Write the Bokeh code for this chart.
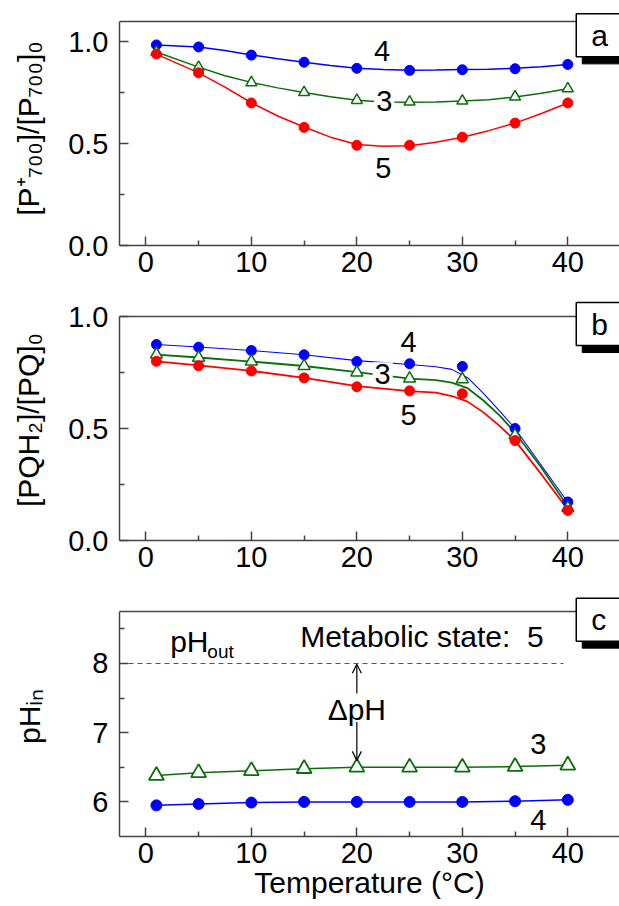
from bokeh.plotting import figure
from bokeh.layouts import column
from bokeh.models import Range1d, FixedTicker, Label, Arrow, OpenHead, PrintfTickFormatter
from bokeh.embed import file_html
from bokeh.resources import INLINE

FONT = "Liberation Sans"
BLUE = "#0000ff"
RED = "#ff0000"
GREEN = "#0b6e0b"
AXC = "#444444"

# ---------------- data ----------------
temperature = [1, 5, 10, 15, 20, 25, 30, 35, 40]

# panel a: [P700+]/[P700]0
p700_state4 = [0.985, 0.975, 0.935, 0.900, 0.870, 0.860, 0.863, 0.868, 0.889]
p700_state3 = [0.950, 0.875, 0.800, 0.752, 0.713, 0.705, 0.710, 0.730, 0.770]
p700_state5 = [0.940, 0.848, 0.700, 0.580, 0.492, 0.492, 0.532, 0.601, 0.700]
# fitted curves of panel a
a_fit_t = [1, 5, 7.5, 10, 12.5, 15, 17.5, 20, 22.5, 25, 27.5, 30, 32.5, 35, 37.5, 40]
a_fit_state4 = [0.985, 0.975, 0.958, 0.936, 0.917, 0.900, 0.884, 0.871, 0.864, 0.861, 0.862, 0.864, 0.866, 0.870, 0.878, 0.889]
a_fit_state3 = [0.950, 0.876, 0.834, 0.801, 0.774, 0.751, 0.730, 0.713, 0.705, 0.703, 0.705, 0.709, 0.716, 0.729, 0.748, 0.770]
a_fit_state5 = [0.940, 0.848, 0.778, 0.701, 0.636, 0.582, 0.532, 0.496, 0.487, 0.490, 0.507, 0.532, 0.564, 0.601, 0.648, 0.700]

# panel b: [PQH2]/[PQ]0
pq_state4 = [0.875, 0.863, 0.848, 0.829, 0.799, 0.789, 0.777, 0.500, 0.172]
pq_state3 = [0.830, 0.816, 0.799, 0.779, 0.750, 0.723, 0.720, 0.470, 0.146]
pq_state5 = [0.800, 0.780, 0.757, 0.726, 0.686, 0.668, 0.655, 0.446, 0.134]
b_fit_t = [1, 5, 10, 15, 20, 25, 27.5, 29, 30.5, 32, 33.5, 35, 37.5, 40]
b_fit_state4 = [0.875, 0.864, 0.848, 0.829, 0.803, 0.786, 0.776, 0.764, 0.727, 0.657, 0.580, 0.500, 0.335, 0.171]
b_fit_state3 = [0.830, 0.817, 0.799, 0.779, 0.752, 0.723, 0.716, 0.705, 0.680, 0.625, 0.560, 0.482, 0.325, 0.152]
b_fit_state5 = [0.800, 0.782, 0.757, 0.726, 0.689, 0.667, 0.660, 0.645, 0.620, 0.572, 0.513, 0.446, 0.295, 0.138]

# panel c: pH_in
ph_state3 = [6.38, 6.42, 6.45, 6.48, 6.50, 6.50, 6.50, 6.51, 6.53]
ph_state4 = [5.95, 5.97, 5.99, 6.00, 6.00, 6.00, 6.00, 6.01, 6.03]
ph_out = 8.0
ph_out_t = [-2.5, 39.6]

x_ticks = [0, 10, 20, 30, 40]
x_minor = [5, 15, 25, 35]
X0, X1 = -2.5, 44.9


def style_axis(ax, standoff):
    ax.axis_line_color = AXC
    ax.axis_line_width = 1.5
    ax.major_tick_line_color = AXC
    ax.minor_tick_line_color = AXC
    ax.major_tick_line_width = 1.5
    ax.minor_tick_line_width = 1.5
    ax.major_tick_in = 9
    ax.major_tick_out = 0
    ax.minor_tick_in = 5
    ax.minor_tick_out = 0
    ax.major_label_text_font = FONT
    ax.major_label_text_font_size = "29px"
    ax.major_label_text_color = "black"
    ax.major_label_standoff = standoff
    ax.axis_label_text_font = FONT
    ax.axis_label_text_font_size = "30px"
    ax.axis_label_text_font_style = "normal"
    ax.axis_label_text_color = "black"


def make_fig(h, top, bottom, y0, yframe, yview, yt, ym, ylab, fmt, lab_standoff, xlab=None):
    p = figure(width=619, height=h, x_range=Range1d(X0, X1), y_range=Range1d(y0, yview),
               output_backend="svg", toolbar_location=None,
               min_border_left=119, min_border_right=0,
               min_border_top=top, min_border_bottom=bottom)
    p.outline_line_color = None
    p.grid.visible = False
    p.background_fill_color = "white"
    p.border_fill_color = "white"
    xa = p.xaxis[0]
    xa.ticker = FixedTicker(ticks=x_ticks, minor_ticks=x_minor)
    style_axis(xa, 6)
    if xlab:
        xa.axis_label = xlab
        xa.axis_label_standoff = 0
    ya = p.yaxis[0]
    ya.ticker = FixedTicker(ticks=yt, minor_ticks=ym)
    ya.formatter = PrintfTickFormatter(format=fmt)
    ya.bounds = (y0, yframe)
    style_axis(ya, 11)
    ya.axis_label = ylab
    ya.axis_label_standoff = lab_standoff
    # top border of the frame (the right border is cut off in the reference)
    p.line([X0, X1], [yframe, yframe], line_color=AXC, line_width=1.5)
    return p


def tag(p, letter, ytop, dy):
    pad = dict(left=15, right=15, top=5, bottom=5)
    x0 = 40.8
    sh = Label(x=x0 + 0.57, y=ytop - dy, text=letter, text_font=FONT, text_font_size="30px",
               text_color="black", text_align="left", text_baseline="top",
               background_fill_color="black", border_line_color="black", padding=pad)
    lb = Label(x=x0, y=ytop, text=letter, text_font=FONT, text_font_size="30px",
               text_color="black", text_align="left", text_baseline="top",
               background_fill_color="white", border_line_color="black", border_line_width=1.5,
               padding=pad)
    p.add_layout(sh)
    p.add_layout(lb)


def num(p, txt, x, y, pad=None):
    kw = {}
    if pad is not None:
        kw["padding"] = pad
    p.add_layout(Label(x=x, y=y, text=txt, text_font=FONT, text_font_size="29px",
                       text_color="black", text_align="center", text_baseline="middle",
                       background_fill_color="white", **kw))


def note(p, txt, x, y, fs, align="left"):
    p.add_layout(Label(x=x, y=y, text=txt, text_font=FONT, text_font_size=fs,
                       text_color="black", text_align=align, text_baseline="middle"))


# ---------------- panel a ----------------
pa = make_fig(290, 11, 45, 0, 1.1, 1.1491, [0, 0.5, 1.0], [0.25, 0.75],
              "[P\u207a\u2087\u2080\u2080]/[P\u2087\u2080\u2080]\u2080", "%.1f", 20)
pa.line(a_fit_t, a_fit_state4, line_color=BLUE, line_width=1.5)
pa.line(a_fit_t, a_fit_state3, line_color=GREEN, line_width=1.5)
pa.line(a_fit_t, a_fit_state5, line_color=RED, line_width=1.5)
pa.scatter(temperature, p700_state4, marker="circle", size=10, fill_color=BLUE, line_color=BLUE)
pa.scatter(temperature, p700_state3, marker="triangle", size=11, fill_color="white",
           line_color=GREEN, line_width=1.5)
pa.scatter(temperature, p700_state5, marker="circle", size=10, fill_color=RED, line_color=RED)
num(pa, "4", 22.4, 0.956)
num(pa, "3", 22.6, 0.709, dict(left=2, right=2, top=0, bottom=0))
num(pa, "5", 22.5, 0.383)
tag(pa, "a", 1.1375, 0.0344)

# ---------------- panel b ----------------
pb = make_fig(300, 9, 50, 0, 1.0, 1.0759, [0, 0.5, 1.0], [0.25, 0.75],
              "[PQH\u2082]/[PQ]\u2080", "%.1f", 20)
pb.line(b_fit_t, b_fit_state4, line_color=BLUE, line_width=1.1)
pb.line(b_fit_t, b_fit_state3, line_color=GREEN, line_width=1.8)
pb.line(b_fit_t, b_fit_state5, line_color=RED, line_width=1.8)
pb.scatter(temperature, pq_state4, marker="circle", size=10, fill_color=BLUE, line_color=BLUE)
pb.scatter(temperature, pq_state3, marker="triangle", size=12, fill_color="white",
           line_color=GREEN, line_width=1.5)
pb.scatter(temperature, pq_state5, marker="circle", size=10, fill_color=RED, line_color=RED)
num(pb, "4", 24.9, 0.885)
num(pb, "3", 22.45, 0.742, dict(left=2, right=2, top=2, bottom=2))
num(pb, "5", 24.9, 0.5625)
tag(pb, "b", 1.0625, 0.03125)

# ---------------- panel c ----------------
pc = make_fig(316, 6, 70, 5.5, 8.75, 8.968, [6, 7, 8], [6.5, 7.5, 8.5],
              "pH\u1d62\u2099", "%d", 43, xlab="Temperature (\u00b0C)")
pc.line(ph_out_t, [ph_out, ph_out], line_color="#555555", line_width=1.2, line_dash="5 4")
pc.line(temperature, ph_state3, line_color=GREEN, line_width=1.5)
pc.line(temperature, ph_state4, line_color=BLUE, line_width=1.5)
pc.scatter(temperature, ph_state3, marker="triangle", size=15, fill_color="white",
           line_color=GREEN, line_width=1.8)
pc.scatter(temperature, ph_state4, marker="circle", size=11, fill_color=BLUE, line_color=BLUE)
note(pc, "pH", 2.3, 8.322, "30px")
note(pc, "out", 5.83, 8.168, "19px")
note(pc, "Metabolic state:\u00a0 5", 14.63, 8.395, "30px")
note(pc, "\u0394pH", 20, 7.331, "30px", align="center")
pc.add_layout(Arrow(end=OpenHead(size=9, line_width=1.2), x_start=20, y_start=7.566,
                    x_end=20, y_end=7.99, line_width=1.2))
pc.add_layout(Arrow(end=OpenHead(size=9, line_width=1.2), x_start=20, y_start=7.156,
                    x_end=20, y_end=6.60, line_width=1.2))
num(pc, "3", 37.2, 6.84)
num(pc, "4", 37.2, 5.74)
tag(pc, "c", 8.944, 0.101)

layout = column(pa, pb, pc, spacing=0)
open("out.html", "w").write(file_html(layout, INLINE))
